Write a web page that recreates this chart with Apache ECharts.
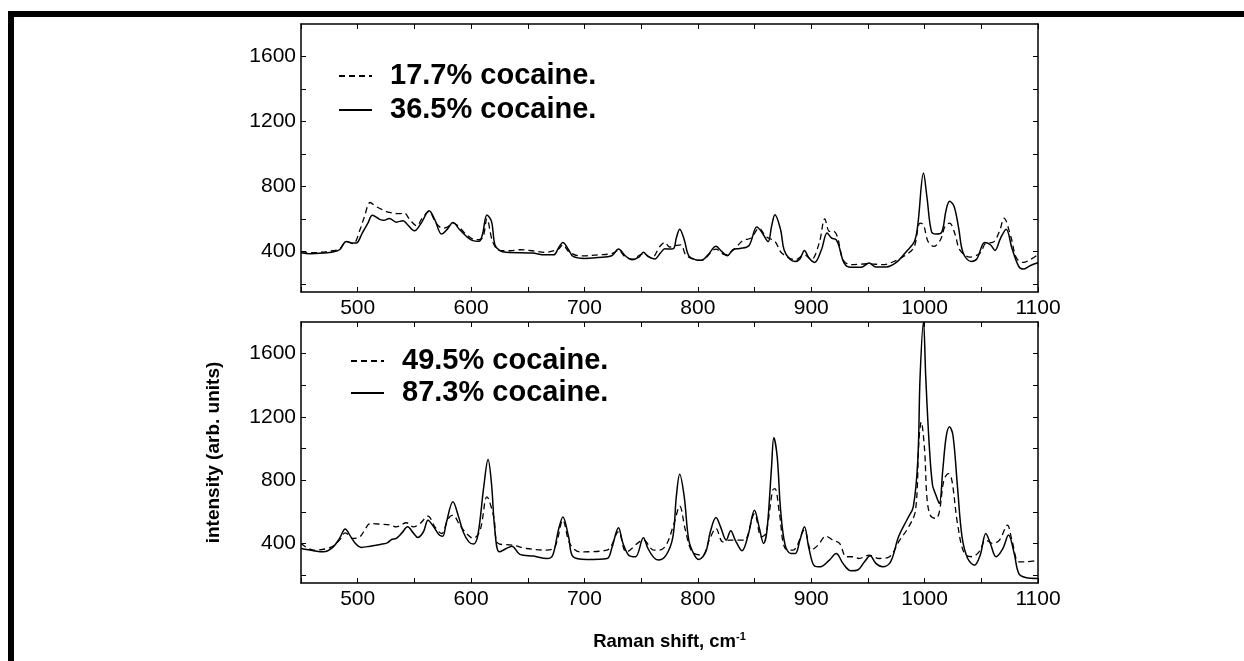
<!DOCTYPE html>
<html>
<head>
<meta charset="utf-8">
<script src="https://cdn.jsdelivr.net/npm/echarts@6/dist/echarts.min.js"></script>
<style>html,body{margin:0;padding:0;background:#fff;}#c{width:1244px;height:661px;}</style>
</head>
<body>
<div id="c"></div>
<script>
// ---- data (Raman shift, cm-1 / intensity, arb. units) ----
const names = ['17.7% cocaine.', '36.5% cocaine.', '49.5% cocaine.', '87.3% cocaine.'];
const xTickLabels = [500, 600, 700, 800, 900, 1000, 1100];
const yTickLabels = [400, 800, 1200, 1600];

const x177 = [450,460,478,484,490,496,502,506,511,516,522,528,537,541,546,552,557,563,569,575,579,584,596,604,610,614,619,625,634,643,654,665,677,681,686,695,701,712,724,730,736,742,752,759,767,771,775,780,785,790,803,816,824,832,840,847,854,860,868,874,886,894,900,907,912,916,919,923,928,935,951,963,975,986,991,996,999,1003,1008,1014,1018,1022,1027,1031,1040,1049,1054,1060,1066,1070,1076,1081,1087,1093,1100];
const y177 = [398,392,404,415,461,447,533,615,701,677,656,640,632,636,595,558,605,646,574,543,550,574,503,472,482,600,460,406,404,410,404,394,414,441,400,373,373,379,386,406,365,353,386,359,435,455,427,435,440,373,345,414,379,414,468,482,543,492,461,390,349,379,349,451,600,523,527,492,349,318,324,318,345,390,431,574,564,461,431,472,554,574,503,410,365,390,451,455,523,605,492,359,332,349,380];

const x365 = [450,458,470,478,484,490,496,499,504,509,513,519,523,528,534,540,544,550,556,563,568,574,579,584,590,596,601,607,610,614,618,621,625,631,654,665,673,677,681,686,690,700,712,724,730,736,742,748,752,756,762,767,771,776,779,781,784,788,792,798,803,809,816,821,826,831,837,845,852,856,862,865,868,873,876,881,886,890,894,898,903,909,914,918,922,925,929,935,944,951,957,966,975,984,991,994,999,1002,1006,1010,1015,1019,1022,1026,1030,1034,1041,1046,1053,1058,1062,1067,1072,1077,1083,1087,1093,1100];
const y365 = [392,386,390,396,410,461,451,452,513,574,622,599,591,603,580,589,564,527,574,650,595,507,537,578,533,492,468,462,503,624,585,441,406,394,390,379,379,420,455,410,369,357,363,373,414,373,349,365,394,369,353,390,416,414,420,482,537,472,373,349,345,379,431,400,373,410,418,435,550,523,461,554,626,533,410,353,338,353,406,359,332,410,513,482,472,420,328,302,302,328,304,304,332,400,461,564,882,738,523,507,517,656,708,677,544,390,338,353,455,441,406,482,537,420,308,291,312,330];

const x495 = [450,461,476,484,489,496,502,507,511,520,529,534,543,549,555,562,568,574,580,584,590,596,602,608,614,620,624,637,649,667,674,681,687,696,720,730,737,752,761,766,772,779,784,789,795,804,810,816,822,828,834,841,850,856,860,866,868,872,877,884,894,900,906,913,919,925,931,937,942,951,960,969,978,986,992,995,997,1000,1002,1005,1010,1013,1017,1021,1024,1029,1035,1042,1048,1054,1060,1066,1073,1077,1083,1089,1100];
const y495 = [400,358,375,421,467,432,442,495,526,522,516,505,531,505,526,573,505,463,558,579,516,463,432,484,695,568,400,389,368,358,379,547,400,347,358,474,347,421,358,358,389,526,636,484,347,326,421,495,410,421,421,421,589,442,463,737,747,589,368,358,484,358,389,446,421,400,316,316,305,326,305,316,421,505,610,1053,1168,989,695,579,558,600,800,842,800,526,337,316,347,421,400,421,516,421,284,284,295];

const x873 = [450,461,470,478,484,489,493,498,503,511,520,526,530,534,539,544,549,553,558,562,567,572,575,578,584,589,593,598,602,606,611,615,618,621,625,633,636,643,655,667,672,677,681,686,690,702,720,724,730,734,739,745,752,756,761,765,772,778,781,784,788,792,797,801,807,811,816,820,825,829,833,839,844,850,854,858,861,865,867,870,873,877,882,886,890,894,898,903,908,916,922,928,935,941,947,952,957,963,970,977,985,990,994,996,999,1001,1004,1007,1010,1013,1016,1019,1022,1025,1029,1033,1038,1044,1049,1054,1058,1063,1069,1074,1079,1083,1089,1100];
const y873 = [368,354,347,375,432,491,453,400,375,383,394,404,425,432,467,505,467,438,474,547,505,453,446,526,663,568,474,410,396,453,747,930,779,484,347,375,383,331,320,305,326,484,568,442,316,299,305,368,499,400,326,316,436,368,312,295,326,442,695,838,695,421,326,299,347,474,564,505,421,480,421,354,442,610,505,400,484,884,1069,947,610,389,337,337,421,505,368,257,253,295,337,274,227,232,284,322,274,253,284,442,558,632,926,1452,1800,1452,1031,768,705,653,863,1074,1137,1084,758,442,305,263,326,463,400,316,368,453,337,211,185,179];

// ---- chart ----
const pairs = (xs, ys) => xs.map((v, i) => [v, ys[i]]);
const FONT = "'Liberation Sans', Arial, sans-serif";
const black = '#000';

function xAx(grid, pos, withLabels, extra) {
  return Object.assign({
    type: 'value', gridIndex: grid, position: pos, min: 450, max: 1100, interval: 50,
    axisLine: { show: true, onZero: false, lineStyle: { color: black, width: 1.5 } },
    axisTick: { show: true, inside: true, length: 5, lineStyle: { color: black, width: 1 } },
    axisLabel: {
      show: withLabels, color: black, fontSize: 21, fontFamily: FONT, margin: 6,
      formatter: v => (xTickLabels.indexOf(v) >= 0 ? String(v) : '')
    },
    splitLine: { show: false }
  }, extra || {});
}
function yAx(grid, pos, withLabels, extra) {
  return Object.assign({
    type: 'value', gridIndex: grid, position: pos, min: 150, max: 1800,
    axisLine: { show: true, onZero: false, lineStyle: { color: black, width: 1.5 } },
    axisTick: { show: true, inside: true, length: 5, lineStyle: { color: black, width: 1 },
      customValues: [200, 400, 600, 800, 1000, 1200, 1400, 1600] },
    axisLabel: { show: withLabels, color: black, fontSize: 21, fontFamily: FONT, margin: 5,
      customValues: yTickLabels, formatter: v => String(v) },
    splitLine: { show: false }
  }, extra || {});
}

const dashStyle = { color: black, width: 1.3, type: [6, 4] };
const solidStyle = { color: black, width: 1.5, type: 'solid' };
function ser(name, data, grid, style) {
  return {
    name, type: 'line', data, xAxisIndex: grid * 2, yAxisIndex: grid * 2,
    showSymbol: false, symbol: 'none', smooth: 0.35, clip: true,
    lineStyle: style, itemStyle: { color: black }, animation: false
  };
}

const legendText = { color: black, fontSize: 29, fontWeight: 'bold', fontFamily: FONT, padding: [0, 0, 0, 13], lineHeight: 30 };

const option = {
  backgroundColor: '#fff',
  animation: false,
  grid: [
    { left: 301, top: 24, width: 737, height: 268 },
    { left: 301, top: 322, width: 737, height: 261 }
  ],
  xAxis: [
    xAx(0, 'bottom', true),
    xAx(0, 'top', false),
    xAx(1, 'bottom', true, {
      name: 'Raman shift, cm{sup|-1}', nameLocation: 'middle', nameGap: 48,
      nameTextStyle: { color: black, fontSize: 18.5, fontWeight: 'bold', fontFamily: FONT,
        rich: { sup: { fontSize: 11, fontWeight: 'bold', fontFamily: FONT, verticalAlign: 'top', padding: [0, 0, 10, 0] } } }
    }),
    xAx(1, 'top', false)
  ],
  yAxis: [
    yAx(0, 'left', true),
    yAx(0, 'right', false),
    yAx(1, 'left', true, {
      name: 'intensity (arb. units)', nameLocation: 'middle', nameGap: 78,
      nameTextStyle: { color: black, fontSize: 19, fontWeight: 'bold', fontFamily: FONT }
    }),
    yAx(1, 'right', false)
  ],
  legend: [
    { data: [names[0], names[1]], orient: 'vertical', left: 333, top: 56, itemWidth: 33, itemHeight: 1, itemGap: 4,
      itemStyle: { opacity: 0 }, textStyle: legendText, selectedMode: false },
    { data: [names[2], names[3]], orient: 'vertical', left: 345, top: 341, itemWidth: 33, itemHeight: 1, itemGap: 2,
      itemStyle: { opacity: 0 }, textStyle: legendText, selectedMode: false }
  ],
  series: [
    ser(names[0], pairs(x177, y177), 0, dashStyle),
    ser(names[1], pairs(x365, y365), 0, solidStyle),
    ser(names[2], pairs(x495, y495), 1, dashStyle),
    ser(names[3], pairs(x873, y873), 1, solidStyle)
  ],
  graphic: [
    { type: 'rect', shape: { x: 8, y: 11, width: 1236, height: 6 }, style: { fill: black } },
    { type: 'rect', shape: { x: 8, y: 11, width: 6, height: 650 }, style: { fill: black } }
  ]
};
const chart = echarts.init(document.getElementById('c'), null, { renderer: 'canvas' });
chart.setOption(option);
</script>
</body>
</html>
